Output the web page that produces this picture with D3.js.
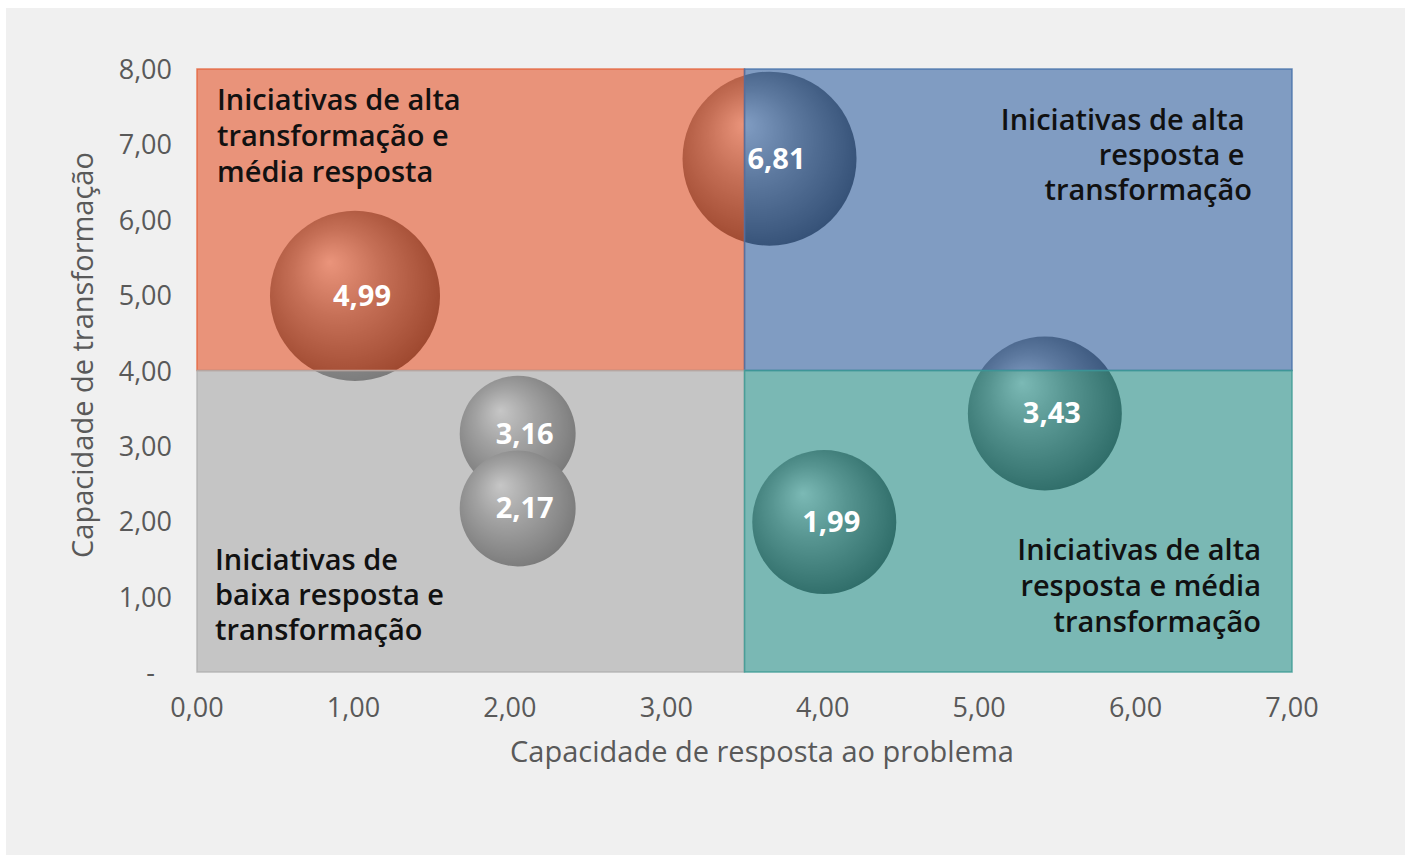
<!DOCTYPE html>
<html>
<head>
<meta charset="utf-8">
<script src="https://cdn.jsdelivr.net/npm/d3@7"></script>
<style>
  body { margin: 0; background: #fff; }
  svg { display: block; font-family: "Open Sans", sans-serif; }
</style>
</head>
<body>
<svg id="chart" width="1412" height="855"></svg>
<script>
// data
var respX   = [1.01, 3.66, 2.05, 2.05, 5.42, 4.01];
var transfY = [4.99, 6.81, 3.16, 2.17, 3.43, 1.99];
var sizes   = [9.55, 10, 4.44, 4.44, 7.83, 6.85];   // bubble size (estimated)
var xTicks  = [0, 1, 2, 3, 4, 5, 6, 7];
var yTicks  = [0, 1, 2, 3, 4, 5, 6, 7, 8];
var splitX = 3.5, splitY = 4;
var quadrants = [
  {x0: 0, x1: splitX, y0: splitY, y1: 8, color: "#e5613a",
   lines: ["Iniciativas de alta", "transformação e", "média resposta"], anchor: "start"},
  {x0: splitX, x1: 7, y0: splitY, y1: 8, color: "#446fa9",
   lines: ["Iniciativas de alta\u00a0", "resposta e\u00a0", "transformação"], anchor: "end"},
  {x0: 0, x1: splitX, y0: 0, y1: splitY, color: "#aeaeae",
   lines: ["Iniciativas de", "baixa resposta e", "transformação"], anchor: "start"},
  {x0: splitX, x1: 7, y0: 0, y1: splitY, color: "#3a9a94",
   lines: ["Iniciativas de alta", "resposta e média", "transformação"], anchor: "end"}
];

var svg = d3.select("#chart");
var num = function(v){ return d3.format(".2f")(v).replace(".", ","); };

var x = d3.scaleLinear().domain([0, 7]).range([197, 1292]);
var y = d3.scaleLinear().domain([0, 8]).range([672, 69]);
var r = d3.scaleSqrt().domain([0, d3.max(sizes)]).range([0, 87]);

// chart area
svg.append("rect").attr("x", 6).attr("y", 8).attr("width", 1399).attr("height", 847).attr("fill", "#f0f0f0");

// sphere gradient
var defs = svg.append("defs");
var g = defs.append("radialGradient").attr("id", "sphere")
    .attr("cx", "0.45").attr("cy", "0.45").attr("r", "0.58")
    .attr("fx", "0.35").attr("fy", "0.3");
g.append("stop").attr("offset", "0%").attr("stop-color", "#f4f4f4");
g.append("stop").attr("offset", "45%").attr("stop-color", "#8a8a8a");
g.append("stop").attr("offset", "85%").attr("stop-color", "#3a3a3a");
g.append("stop").attr("offset", "100%").attr("stop-color", "#1a1a1a");

var pts = respX.map(function(d, i){ return {x: d, y: transfY[i], s: sizes[i]}; });

// bubbles (under the translucent quadrants)
svg.append("g").selectAll("circle")
    .data(pts)
    .enter()
    .append("circle")
    .attr("cx", function(d){ return x(d.x); })
    .attr("cy", function(d){ return y(d.y); })
    .attr("r", function(d){ return r(d.s); })
    .attr("fill", "url(#sphere)");

// quadrants
svg.append("g").selectAll("rect")
    .data(quadrants)
    .enter()
    .append("rect")
    .attr("x", function(d){ return x(d.x0); })
    .attr("y", function(d){ return y(d.y1); })
    .attr("width", function(d){ return x(d.x1) - x(d.x0); })
    .attr("height", function(d){ return y(d.y0) - y(d.y1); })
    .attr("fill", function(d){ return d.color; })
    .attr("fill-opacity", 0.65)
    .attr("stroke", function(d){ return d.color; })
    .attr("stroke-opacity", 0.8)
    .attr("stroke-width", 1.5);

// quadrant labels
var labelPos = [
  {x: 217, y: 110, dy: 36},
  {x: 1252, y: 130, dy: 35},
  {x: 215, y: 570, dy: 35},
  {x: 1261, y: 560, dy: 36}
];
quadrants.forEach(function(q, i){
  var t = svg.append("text")
      .attr("text-anchor", q.anchor)
      .attr("font-size", 29)
      .attr("font-weight", 600)
      .attr("fill", "#111")
      .style("white-space", "pre");
  q.lines.forEach(function(l, j){
    t.append("tspan").attr("x", labelPos[i].x).attr("y", labelPos[i].y + j * labelPos[i].dy).text(l);
  });
});

// bubble value labels
svg.append("g").selectAll("text")
    .data(pts)
    .enter()
    .append("text")
    .attr("x", function(d){ return x(d.x) + 7; })
    .attr("y", function(d){ return y(d.y) + 10; })
    .attr("text-anchor", "middle")
    .attr("font-size", 29)
    .attr("font-weight", 700)
    .attr("fill", "#fff")
    .text(function(d){ return num(d.y); });

// axes (labels only)
svg.append("g").selectAll("text")
    .data(yTicks)
    .enter()
    .append("text")
    .attr("x", function(d){ return d === 0 ? 155 : 172; })
    .attr("y", function(d){ return y(d) + 10; })
    .attr("text-anchor", "end")
    .attr("font-size", 27)
    .attr("fill", "#595959")
    .text(function(d){ return d === 0 ? "-" : num(d); });

svg.append("g").selectAll("text")
    .data(xTicks)
    .enter()
    .append("text")
    .attr("x", function(d){ return x(d); })
    .attr("y", 717)
    .attr("text-anchor", "middle")
    .attr("font-size", 27)
    .attr("fill", "#595959")
    .text(num);

svg.append("text")
    .attr("x", 762).attr("y", 762)
    .attr("text-anchor", "middle")
    .attr("font-size", 29)
    .attr("fill", "#595959")
    .text("Capacidade de resposta ao problema");

svg.append("text")
    .attr("transform", "translate(93,355) rotate(-90)")
    .attr("text-anchor", "middle")
    .attr("font-size", 29)
    .attr("fill", "#595959")
    .text("Capacidade de transformação");
</script>
</body>
</html>
